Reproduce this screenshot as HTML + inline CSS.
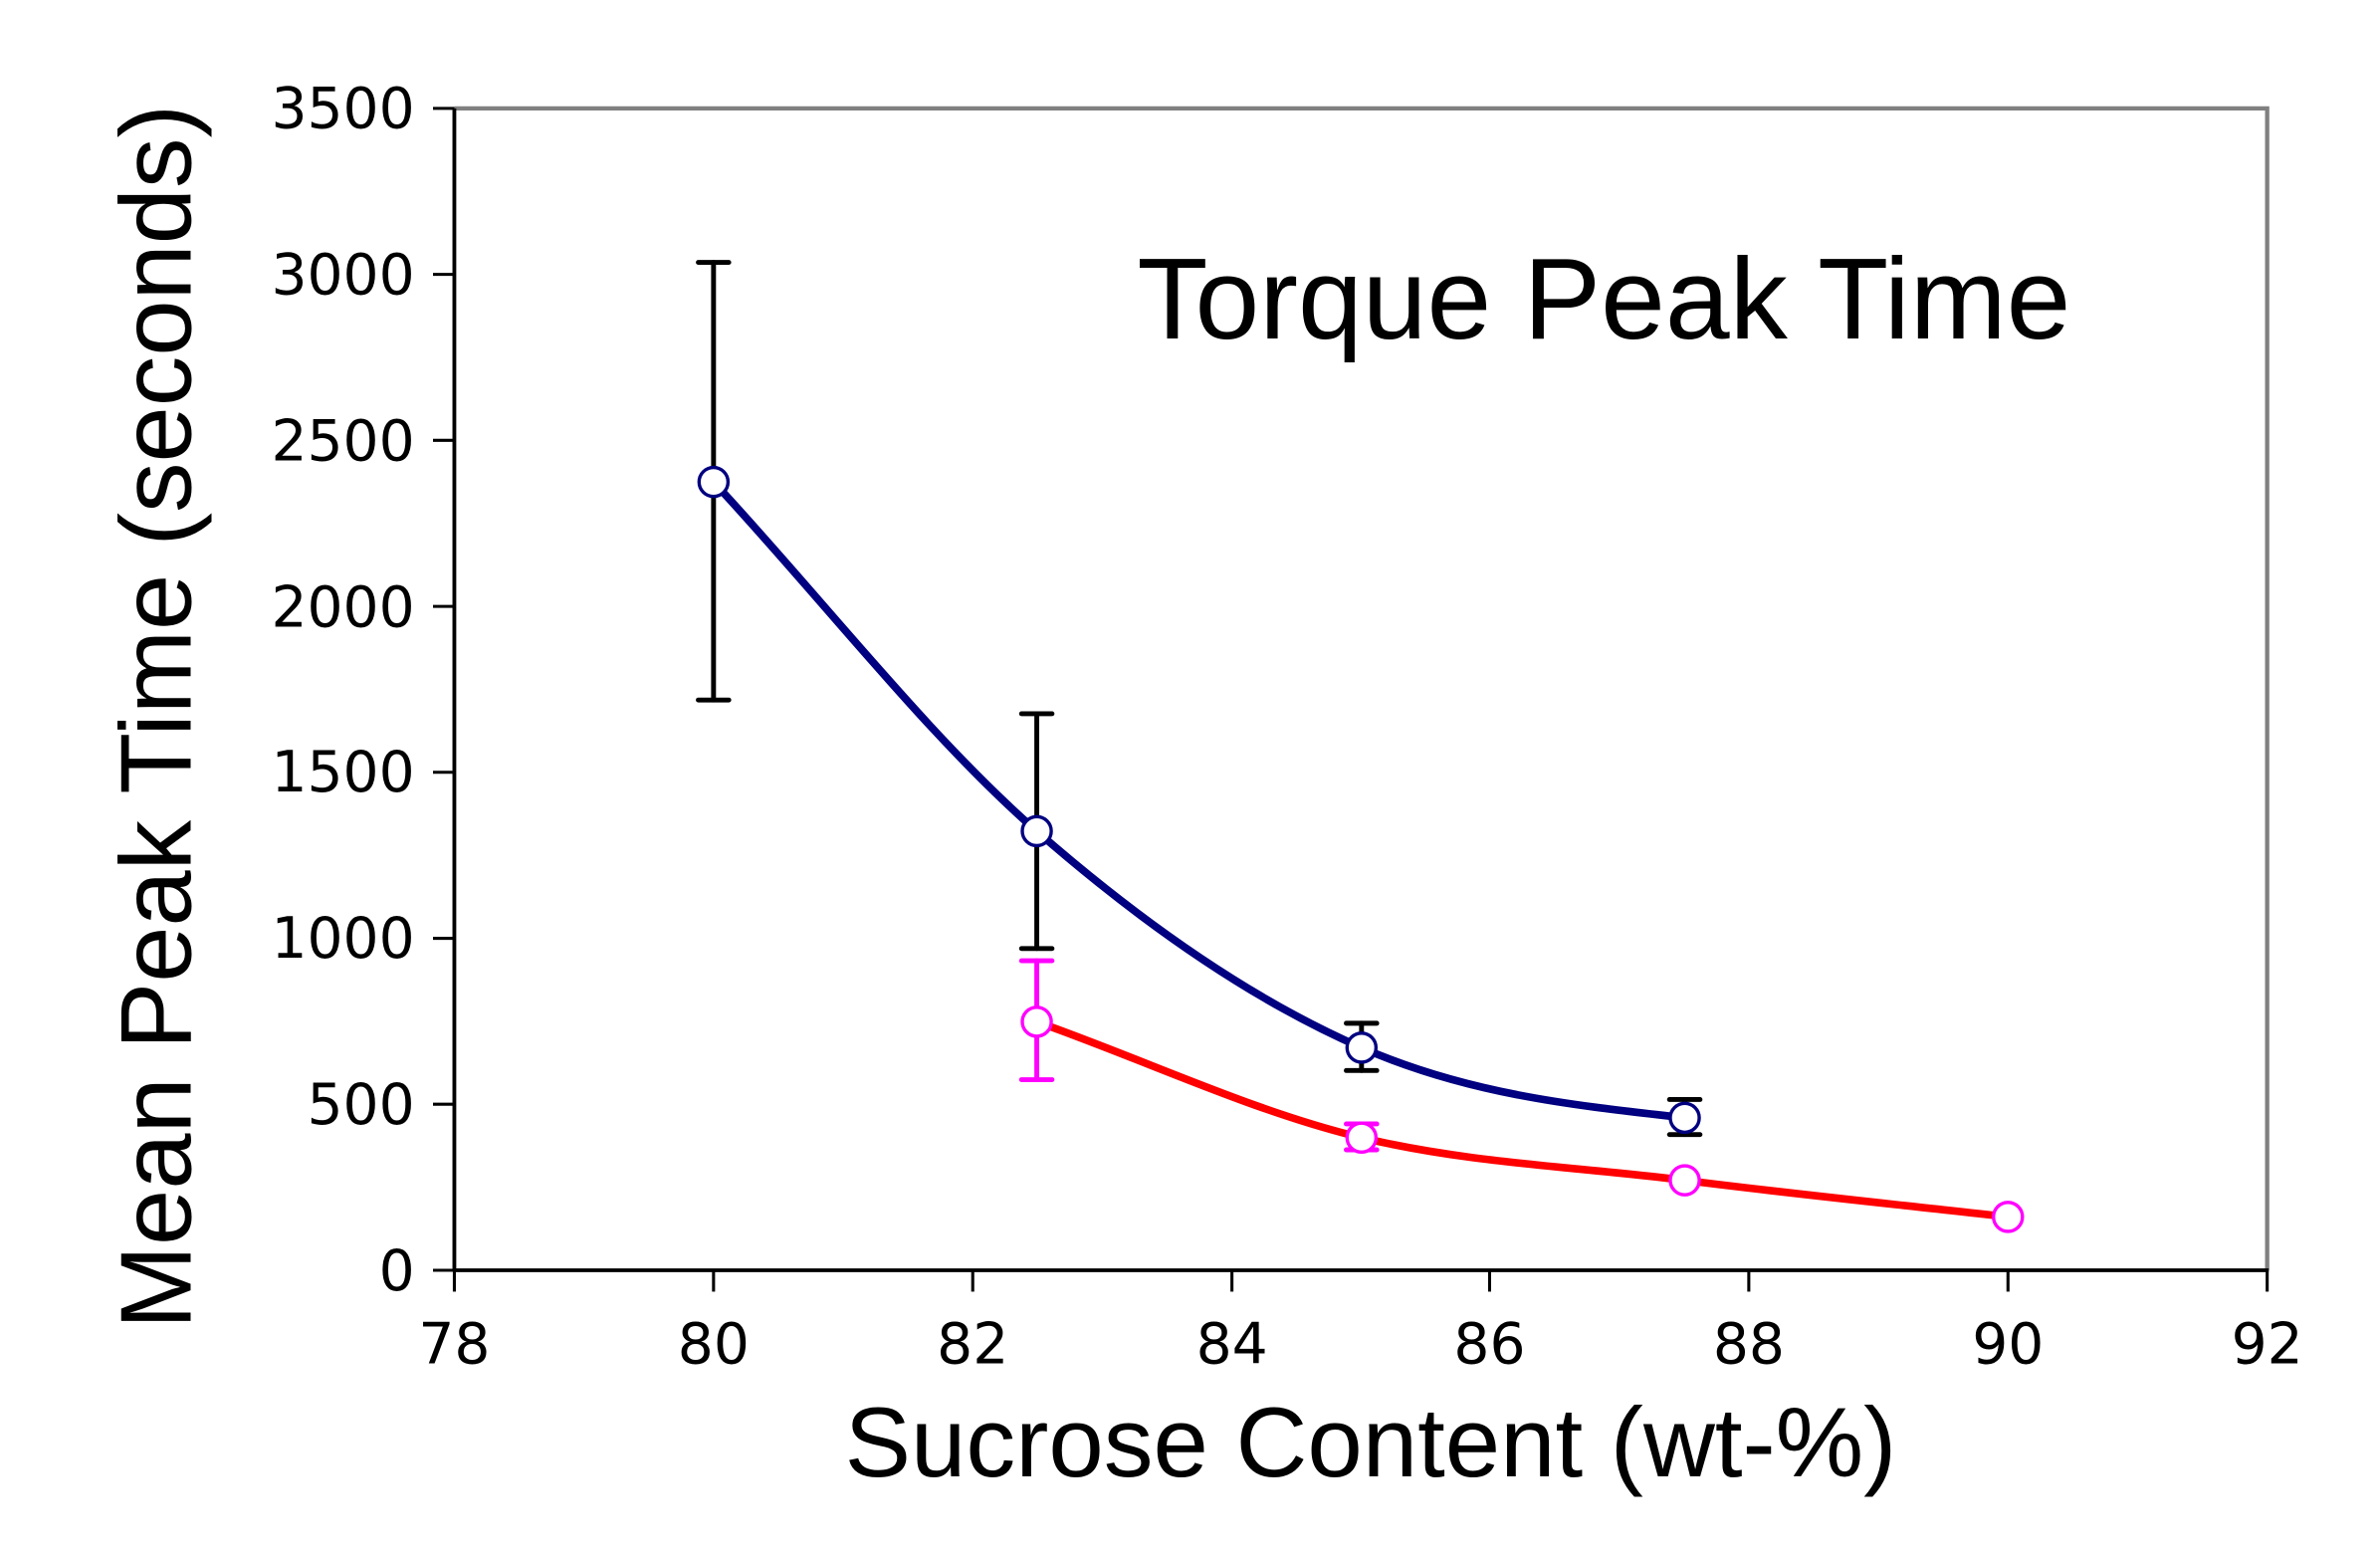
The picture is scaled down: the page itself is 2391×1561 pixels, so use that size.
<!DOCTYPE html>
<html><head><style>html,body{margin:0;padding:0;background:#fff}svg{display:block}</style></head>
<body>
<svg width="2391" height="1561" viewBox="0 0 1561 1019" xmlns="http://www.w3.org/2000/svg">
<rect width="1561" height="1019" fill="#fff"/>
<polyline points="298,71 1487,71 1487,833" fill="none" stroke="#808080" stroke-width="2.8"/>
<line x1="298" y1="71" x2="298" y2="834" stroke="#000" stroke-width="2.5"/>
<line x1="297" y1="833" x2="1488" y2="833" stroke="#000" stroke-width="2.5"/>
<g stroke="#000" stroke-width="2">
<line x1="284" y1="833" x2="298" y2="833"/><line x1="284" y1="724.1" x2="298" y2="724.1"/>
<line x1="284" y1="615.3" x2="298" y2="615.3"/><line x1="284" y1="506.4" x2="298" y2="506.4"/>
<line x1="284" y1="397.6" x2="298" y2="397.6"/><line x1="284" y1="288.7" x2="298" y2="288.7"/>
<line x1="284" y1="179.9" x2="298" y2="179.9"/><line x1="284" y1="71" x2="298" y2="71"/>
<line x1="298" y1="833" x2="298" y2="847"/><line x1="468" y1="833" x2="468" y2="847"/>
<line x1="638" y1="833" x2="638" y2="847"/><line x1="808" y1="833" x2="808" y2="847"/>
<line x1="977" y1="833" x2="977" y2="847"/><line x1="1147" y1="833" x2="1147" y2="847"/>
<line x1="1317" y1="833" x2="1317" y2="847"/><line x1="1487" y1="833" x2="1487" y2="847"/>
</g>
<g font-family="DejaVu Sans, sans-serif" font-size="37" fill="#000" text-anchor="end">
<text x="272" y="846">0</text><text x="272" y="737">500</text><text x="272" y="628">1000</text>
<text x="272" y="519">1500</text><text x="272" y="411">2000</text><text x="272" y="302">2500</text>
<text x="272" y="193">3000</text><text x="272" y="84">3500</text>
</g>
<g font-family="DejaVu Sans, sans-serif" font-size="37" fill="#000" text-anchor="middle">
<text x="298" y="894">78</text><text x="468" y="894">80</text><text x="638" y="894">82</text>
<text x="808" y="894">84</text><text x="977" y="894">86</text><text x="1147" y="894">88</text>
<text x="1317" y="894">90</text><text x="1487" y="894">92</text>
</g>
<text x="899" y="968" font-family="Liberation Sans, sans-serif" font-size="65" text-anchor="middle">Sucrose Content (wt-%)</text>
<text transform="translate(125,470) rotate(-90)" font-family="Liberation Sans, sans-serif" font-size="66" text-anchor="middle">Mean Peak Time (seconds)</text>
<text x="1052" y="222" font-family="Liberation Sans, sans-serif" font-size="76" text-anchor="middle">Torque Peak Time</text>
<g stroke="#000" stroke-width="3.2" stroke-linecap="round">
<line x1="468" y1="172" x2="468" y2="459"/><line x1="458" y1="172" x2="478" y2="172"/><line x1="458" y1="459" x2="478" y2="459"/>
<line x1="680" y1="468" x2="680" y2="622"/><line x1="670" y1="468" x2="690" y2="468"/><line x1="670" y1="622" x2="690" y2="622"/>
<line x1="893" y1="671" x2="893" y2="702"/><line x1="883" y1="671" x2="903" y2="671"/><line x1="883" y1="702" x2="903" y2="702"/>
<line x1="1105" y1="721" x2="1105" y2="744"/><line x1="1095" y1="721" x2="1115" y2="721"/><line x1="1095" y1="744" x2="1115" y2="744"/>
</g>
<g stroke="#ff00ff" stroke-width="3.2" stroke-linecap="round">
<line x1="680" y1="630" x2="680" y2="708"/><line x1="670" y1="630" x2="690" y2="630"/><line x1="670" y1="708" x2="690" y2="708"/>
<line x1="893" y1="737" x2="893" y2="754"/><line x1="883" y1="737" x2="903" y2="737"/><line x1="883" y1="754" x2="903" y2="754"/>
</g>
<path d="M468,316 C538.7,392 609,483 680,545 C751,607 822,656 893,687 C964,718 1034,725 1105,733" fill="none" stroke="#000080" stroke-width="5"/>
<path d="M680,670 C751,695 822,729 893,746 C964,763 1034,765 1105,774 C1176,783 1246,790 1317,798" fill="none" stroke="#ff0000" stroke-width="5"/>
<g fill="#fff" stroke="#000080" stroke-width="2.2">
<circle cx="468" cy="316" r="9.5"/><circle cx="680" cy="545" r="9.5"/><circle cx="893" cy="687" r="9.5"/><circle cx="1105" cy="733" r="9.5"/>
</g>
<g fill="#fff" stroke="#ff00ff" stroke-width="2.2">
<circle cx="680" cy="670" r="9.5"/><circle cx="893" cy="746" r="9.5"/><circle cx="1105" cy="774" r="9.5"/><circle cx="1317" cy="798" r="9.5"/>
</g>
</svg>
</body></html>
